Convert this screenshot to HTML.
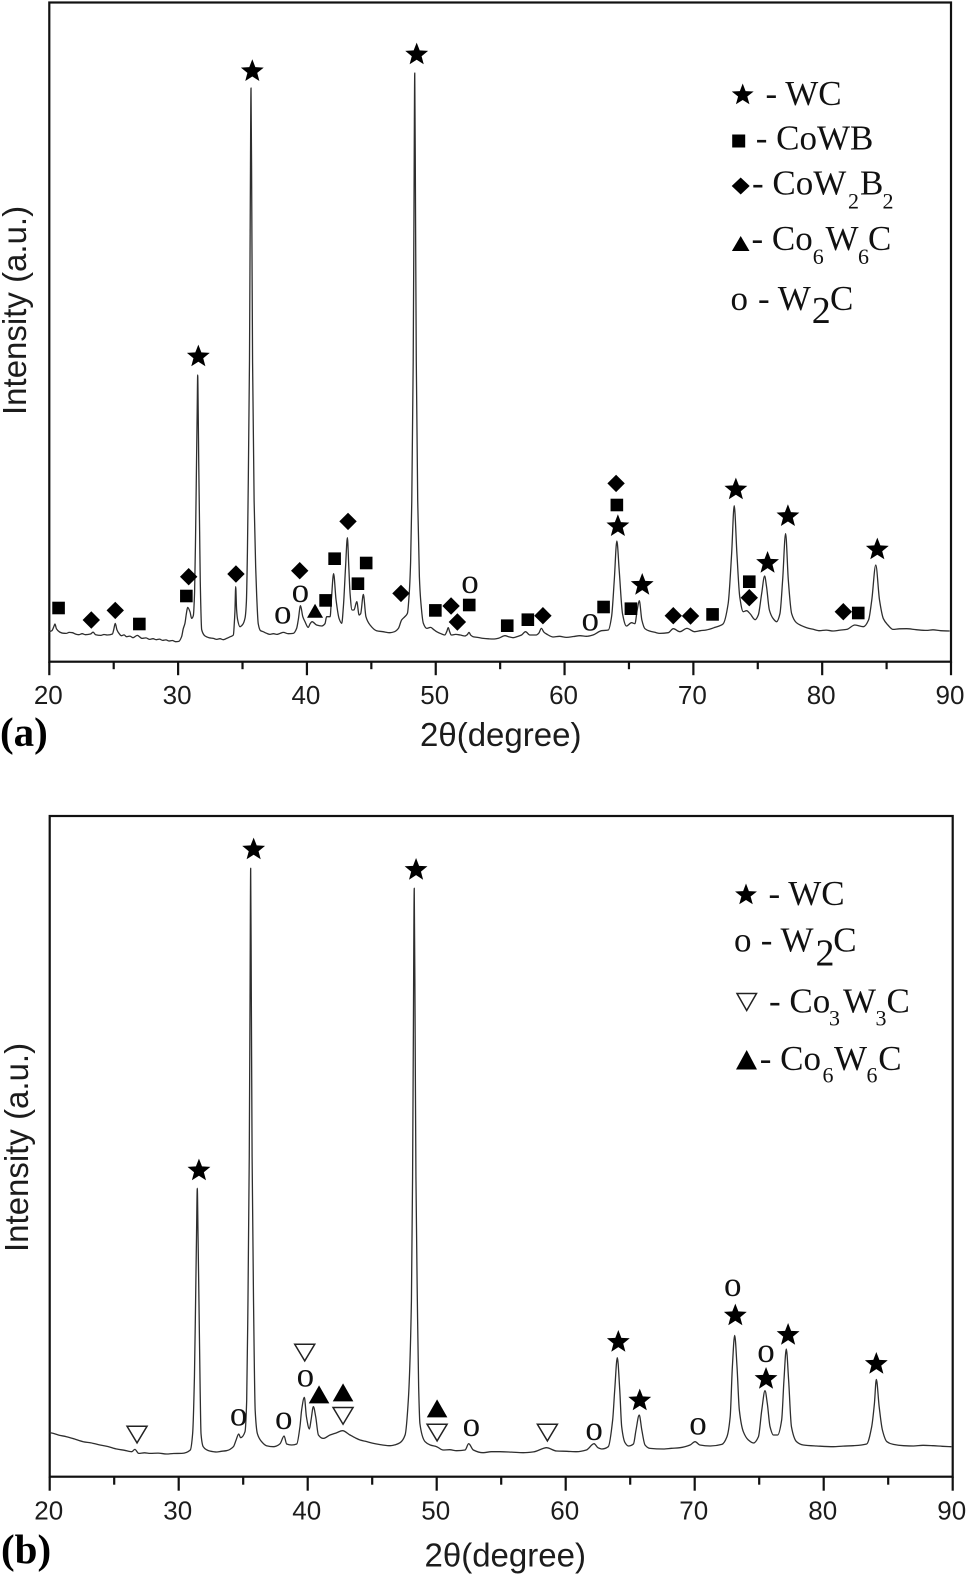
<!DOCTYPE html>
<html lang="en">
<head>
<meta charset="utf-8">
<title>XRD patterns (a) and (b)</title>
<style>
html,body{margin:0;padding:0;background:#fff;}
svg{display:block;filter:blur(0.35px);}
.tick-label{font:26px "Liberation Sans",sans-serif;fill:#1c1c1c;text-anchor:middle;}
.axis-title{font:33px "Liberation Sans","DejaVu Sans",sans-serif;fill:#1c1c1c;}
.panel-tag{font:bold 41px "Liberation Serif",serif;fill:#000;}
.legend-text{font:35px "Liberation Serif",serif;fill:#111;}
.o-mark{font:35px "Liberation Serif",serif;fill:#111;text-anchor:middle;}
</style>
</head>
<body>
<svg id="figure" xmlns="http://www.w3.org/2000/svg" width="968" height="1578" viewBox="0 0 968 1578">
  <rect width="968" height="1578" fill="#fff"/>

  <g id="panelA">
    <rect x="49.3" y="2.5" width="901.7" height="659.2" fill="none" stroke="#111" stroke-width="2.2"/>
    <text class="axis-title" transform="translate(26,415) rotate(-90)">Intensity (a.u.)</text>
    <text class="axis-title" x="420" y="746">2θ(degree)</text>
    <text class="panel-tag" x="0" y="746">(a)</text>
  </g>

  <g id="panelB">
    <rect x="49.7" y="816" width="903" height="660.7" fill="none" stroke="#111" stroke-width="2.2"/>
    <text class="axis-title" transform="translate(28,1252) rotate(-90)">Intensity (a.u.)</text>
    <text class="axis-title" x="424.5" y="1566.5">2θ(degree)</text>
    <text class="panel-tag" x="1" y="1563">(b)</text>
  </g>

  <g>
    <g>
      <polygon transform="translate(742.7,95) scale(1.15)" points="0,-10 2.5,-3.4 9.51,-3.09 4,1.3 5.88,8.09 0,4.3 -5.88,8.09 -4,1.3 -9.51,-3.09 -2.5,-3.4" fill="#000"/>
      <text class="legend-text" x="765.5" y="105">- WC</text>
    </g>
    <g>
      <rect x="732.2" y="134.5" width="13" height="13" fill="#000"/>
      <text class="legend-text" x="755.7" y="149.3">- CoWB</text>
    </g>
    <g>
      <polygon points="740.7,177.5 749.7,186 740.7,194.5 731.7,186" fill="#000"/>
      <text class="legend-text" x="752" y="194.3">- CoW<tspan x="848" dy="14" font-size="22">2</tspan><tspan x="860" dy="-14">B</tspan><tspan x="882.5" dy="14" font-size="22">2</tspan></text>
    </g>
    <g>
      <polygon points="740.7,236 749.5,251 731.9,251" fill="#000"/>
      <text class="legend-text" x="751.5" y="250">- Co<tspan x="812.8" dy="14" font-size="22">6</tspan><tspan x="825.5" dy="-14">W</tspan><tspan x="858" dy="14" font-size="22">6</tspan><tspan x="868" dy="-14">C</tspan></text>
    </g>
    <g>
      <text class="o-mark" x="739.3" y="310">o</text>
      <text class="legend-text" x="758" y="310">- W<tspan x="811.7" dy="13" font-size="38">2</tspan><tspan x="830" dy="-13">C</tspan></text>
    </g>
  </g>

  <g>
    <g>
      <polygon transform="translate(746,895) scale(1.15)" points="0,-10 2.5,-3.4 9.51,-3.09 4,1.3 5.88,8.09 0,4.3 -5.88,8.09 -4,1.3 -9.51,-3.09 -2.5,-3.4" fill="#000"/>
      <text class="legend-text" x="768.5" y="905">- WC</text>
    </g>
    <g>
      <text class="o-mark" x="742.7" y="951.7">o</text>
      <text class="legend-text" x="760.7" y="951.7">- W<tspan x="815.5" dy="14" font-size="38">2</tspan><tspan x="833.3" dy="-14">C</tspan></text>
    </g>
    <g>
      <polygon points="737,993.5 756.5,993.5 746.7,1010.5" fill="#fff" stroke="#222" stroke-width="1.5"/>
      <text class="legend-text" x="769" y="1012.7">- Co<tspan x="829" dy="13" font-size="22">3</tspan><tspan x="843" dy="-13">W</tspan><tspan x="875.5" dy="13" font-size="22">3</tspan><tspan x="886.5" dy="-13">C</tspan></text>
    </g>
    <g>
      <polygon points="746.7,1050 757,1069.5 736,1069.5" fill="#000"/>
      <text class="legend-text" x="759.7" y="1070">- Co<tspan x="822.5" dy="12.7" font-size="22">6</tspan><tspan x="834" dy="-12.7">W</tspan><tspan x="866.5" dy="12.7" font-size="22">6</tspan><tspan x="878.3" dy="-12.7">C</tspan></text>
    </g>
  </g>
</svg>

<script>
const xMajorTicks = [20, 30, 40, 50, 60, 70, 80, 90];
const xMinorTicks = [25, 35, 45, 55, 65, 75, 85];

const twoThetaA = [
20.0,20.2,20.35,20.44,20.55,20.8,21.05,21.3,21.55,21.8,
22.05,22.3,22.55,22.8,23.2,23.4,23.6,24,24.25,24.5,
24.9,25.0,25.12,25.25,25.4,25.6,25.8,26,26.25,26.5,
26.83,27.2,27.5,27.8,28.05,28.3,28.55,28.8,29.05,29.3,
29.55,29.8,30.05,30.27,30.4,30.53,30.64,30.74,30.92,31.05,
31.18,31.28,31.36,31.43,31.48,31.52,31.56,31.6,31.67,31.72,
31.83,32.09,32.4,32.73,33.0,33.25,33.5,33.77,34.05,34.29,
34.36,34.41,34.47,34.54,34.62,34.8,35.0,35.2,35.3,35.38,
35.43,35.54,35.6,35.66,35.72,35.78,35.9,36.02,36.1,36.22,
36.4,36.6,36.85,37.13,37.4,37.65,37.9,38.17,38.55,38.94,
39.2,39.33,39.5,39.68,39.85,40.1,40.25,40.4,40.75,41.15,
41.4,41.53,41.8,41.9,42.07,42.26,42.5,42.7,42.83,43.0,
43.14,43.25,43.35,43.5,43.65,43.87,44.05,44.17,44.38,44.58,
44.9,45.4,45.9,46.45,46.8,47.1,47.35,47.6,47.8,47.95,
48.05,48.14,48.25,48.31,48.37,48.43,48.49,48.6,48.73,48.83,
49.04,49.3,49.6,49.85,50.07,50.4,50.7,50.85,50.97,51.08,
51.2,51.55,51.9,52.27,52.45,52.58,52.72,52.9,53.3,53.7,
54.1,54.46,54.9,55.37,55.7,56.0,56.35,56.66,56.97,57.3,
57.8,58.0,58.2,58.4,58.6,59.12,59.6,60.15,60.7,61.2,
61.7,62.2,62.87,63.4,63.65,63.86,64.06,64.24,64.5,64.8,
65.2,65.46,65.64,65.8,66.0,66.24,66.6,67.0,67.4,68.05,
68.44,68.95,69.5,70.1,70.55,71.0,71.67,72.3,72.7,72.97,
73.17,73.38,73.6,73.87,74.13,74.4,74.8,75.04,75.3,75.53,
75.68,75.9,76.2,76.46,76.72,76.93,77.16,77.37,77.63,78.0,
78.4,78.8,79.3,79.8,80.3,80.85,81.4,81.9,82.54,83.2,
83.6,83.85,84.16,84.45,84.75,85.1,85.5,86.0,86.55,87.3,
88.1,88.6,89.2,89.9
];
const intensityA = [
30,31,35,37.7,33,29.7,28.5,28.3,29.3,29,
27.6,27,28,27,27.7,29.5,27,26.3,27.2,26.7,
27.7,32,38.3,32,28.5,26,26.8,25,25.6,24,
26.3,23.3,23.8,22.3,23,22,22.6,21.3,21.8,20.7,
21.2,20,20.3,25,33,38.3,48,54.3,50,43.3,
46,70,130,200,250,286.7,250,200,130,80,
32,25.7,24,23.3,22.3,23,22,23.3,25,26.7,
38,50,75,52,42,35,37,44,60,110,
161,300,450,573.7,450,300,161,95,66,38,
31,30,28.5,27.3,28,27.3,28.2,29.3,28,28.3,
33.3,42,56,45,40,34.3,38,40,36.7,35.7,
38,45,45,62,88,62,43,38.3,55,95,
124,95,68,51.7,51.7,60,46.7,48,67.3,45,
36.7,31,30,29,30,33.3,41.7,45,48.3,70,
100,161,300,450,588.7,450,300,161,85,61.7,
38.3,33.3,34.3,32,30,28,26.7,30,34,30,
26.7,27.3,26.7,25.7,27,29.3,26.5,25,24.2,23.3,
22.9,22.7,23.6,26,24.8,24,25.2,26.7,30,26.7,
26.7,28.5,33.3,29.5,27.7,24.7,25.4,24.3,25.2,26,
25.4,26.7,31,31.7,45,81.7,120.7,91.7,48,35.7,
39,38,51.7,61,41.7,33,30.7,29.4,28.3,29,
33,30,33.3,30,31,31.7,34.3,37.7,58,108,
156,108,65,50,51,48,42,46.7,68,85.7,
75,51.7,43,40,48,81.7,128,81.7,48,39,
36,34,32.4,31,31.6,30.7,31.6,32.3,36.7,35,
41.7,61.7,96.7,61.7,43,36.7,32.3,32.9,33,32,
31.3,31.9,31,30.7
];

const twoThetaB = [
20,20.28,20.7,21.3,21.9,22.6,23.2,23.9,24.5,25.2,
25.8,26.36,26.6,26.9,27.35,27.8,28.4,29.07,29.6,30.23,
30.9,31.08,31.22,31.31,31.38,31.44,31.5,31.57,31.66,31.73,
31.9,32.15,32.4,32.95,33.3,33.7,34.24,34.45,34.65,34.8,
35.14,35.27,35.37,35.47,35.53,35.58,35.63,35.69,35.8,35.93,
36.1,36.43,36.8,37.34,37.6,37.86,38.17,38.37,38.76,39.15,
39.4,39.53,39.74,39.9,40.13,40.26,40.44,40.62,40.83,41.2,
41.73,42.25,42.7,43.28,43.7,44.06,44.55,45.1,45.75,46.4,
46.8,47.16,47.55,47.8,48.04,48.13,48.19,48.26,48.33,48.39,
48.5,48.6,48.7,49.1,49.5,50,50.5,51.0,51.55,52.2,
52.48,52.84,53.6,54.25,54.9,55.8,56.7,57.5,58.27,58.5,
59.3,60.1,60.85,61.6,62.2,62.5,62.8,63.3,63.64,63.8,
64.0,64.19,64.34,64.6,64.86,65.25,65.45,65.7,65.9,66.15,
66.54,67.57,68.2,68.86,69.64,70.03,70.4,71.2,72.1,72.5,
72.75,72.92,73.1,73.28,73.46,73.77,74.16,74.55,74.94,75.2,
75.45,75.63,75.84,76.1,76.43,76.74,76.92,77.1,77.28,77.5,
77.9,78.42,79.46,80.75,81.5,82.3,83.33,83.72,83.93,84.08,
84.3,84.55,84.9,85.4,86.2,86.95,87.7,88.5,89.2,89.9
];
const intensityB = [
44,43.3,41.6,40,37.8,35,33.8,31.7,30.2,27.7,
26.4,25,27.3,23.3,23.9,23.3,23.6,22.7,23.2,23.3,
26.7,43,100,176,240,288.4,240,176,90,43,
30,27,25.7,24.7,25.4,26,30,36.7,42.7,39,
45,76,176,320,480,608.4,480,320,176,66,
43,35,31,30,30.8,33,40.7,32.7,31.7,32.7,
50,66.7,79.3,60,47.7,56.7,70,60,41.7,38.3,
41.7,44,46,41.7,38.8,36.7,35.2,33.3,31.8,31,
32,34,41.7,76.7,176,300,440,588.4,440,300,
176,90,53,35,31.7,30,26.7,27,26,26.7,
33,26.7,24,25,25,24.6,24,24.8,28.3,29,
25.7,25.4,25,26.7,33,29,27.7,30,56.7,86.7,
119,86.7,50,34,30.7,32.7,46.7,61.7,46.7,31.7,
28.3,27.7,28.4,29,31.7,35,31.7,30.7,32.3,40,
60,110,141.3,110,66.7,45,36.7,33.7,40,66.7,
86,73,50,41.7,41.7,56.7,96.7,127.7,96.7,50,
35,31.7,30.7,30,30.6,31,32.7,50,73,97.3,
70,46.7,35,32.3,31,30.7,31.4,31,30.4,30
];

const wcStarsA2Theta = [31.57,35.76,48.52,64.14,66.03,73.3,75.76,77.34,84.28];
const wcStarsAIntensity = [305.7,591,607.7,136,77.3,172.7,99.3,146,112.7];
const cowbSquaresA2Theta = [20.72,26.99,30.64,41.45,42.15,43.96,44.6,49.97,52.6,55.55,57.15,63.03,65.15,64.06,71.49,74.34,82.8];
const cowbSquaresAIntensity = [53.7,37.7,65.7,61.3,103,78,98.7,51.3,56.7,36,42,54.7,53,156.7,47.3,80,48.7];
const cow2b2DiamondsA2Theta = [23.26,25.12,30.82,34.49,39.44,43.19,47.3,51.19,51.68,58.32,64,68.44,69.78,74.34,81.64];
const cow2b2DiamondsAIntensity = [41.7,51.3,85,87.7,91,140.3,68.3,55.7,39.7,46,178.3,46,45.7,64,50];
const co6w6cTrianglesA2Theta = [40.63];
const co6w6cTrianglesAIntensity = [51];
const w2cCirclesA2Theta = [38.12,39.49,52.66,61.99];
const w2cCirclesAIntensity = [46,67.7,76.7,39];

const wcStarsB2Theta = [31.57,35.81,48.4,64.08,65.74,73.15,75.53,77.24,84.08];
const wcStarsBIntensity = [306.7,627.7,607.3,135.3,76.7,161.7,98.3,142.3,113.3];
const w2cCirclesB2Theta = [34.65,38.14,39.82,52.69,62.2,70.26,72.95,75.53];
const w2cCirclesBIntensity = [59,55.7,98,48.3,44.7,50,188.3,122.3];
const co3w3cOpenB2Theta = [26.77,39.77,42.74,50.03,58.58];
const co3w3cOpenBIntensity = [42.3,124.3,61,44.3,44.3];
const co6w6cFilledB2Theta = [40.88,42.74,50.03];
const co6w6cFilledBIntensity = [82.3,84.3,68.3];

const SVG_NS = 'http://www.w3.org/2000/svg';

function xAxis(left, right) {
  return function (deg) { return left + (deg - 20) / 70 * (right - left); };
}
function yAxis(bottom) {
  return function (value) { return bottom - value; };
}

function drawTicks(group, panelId, x, bottom, labelY, majorLen, minorLen) {
  xMajorTicks.forEach(function (v) {
    const t = document.createElementNS(SVG_NS, 'line');
    
    
    t.setAttribute('x1', x(v));
    t.setAttribute('x2', x(v));
    t.setAttribute('y1', bottom);
    t.setAttribute('y2', bottom + majorLen);
    t.setAttribute('stroke', '#111');
    t.setAttribute('stroke-width', '2.2');
    group.appendChild(t);
    const lab = document.createElementNS(SVG_NS, 'text');
    
    
    lab.setAttribute('class', 'tick-label');
    lab.setAttribute('x', x(v) - 1);
    lab.setAttribute('y', labelY);
    lab.textContent = String(v);
    group.appendChild(lab);
  });
  xMinorTicks.forEach(function (v) {
    const t = document.createElementNS(SVG_NS, 'line');
    
    
    t.setAttribute('x1', x(v));
    t.setAttribute('x2', x(v));
    t.setAttribute('y1', bottom);
    t.setAttribute('y2', bottom + minorLen);
    t.setAttribute('stroke', '#111');
    t.setAttribute('stroke-width', '2.2');
    group.appendChild(t);
  });
}

function monotonePath(px, py) {
  const n = px.length;
  const secant = [];
  for (let i = 0; i < n - 1; i++) {
    secant.push((py[i + 1] - py[i]) / (px[i + 1] - px[i]));
  }
  const slope = [secant[0]];
  for (let i = 1; i < n - 1; i++) {
    const a = secant[i - 1], b = secant[i];
    if (a * b <= 0) {
      slope.push(0);
    } else {
      const ha = px[i] - px[i - 1], hb = px[i + 1] - px[i];
      slope.push(3 * (ha + hb) / ((2 * hb + ha) / a + (hb + 2 * ha) / b));
    }
  }
  slope.push(secant[n - 2]);
  let d = 'M' + px[0].toFixed(2) + ' ' + py[0].toFixed(2);
  for (let i = 0; i < n - 1; i++) {
    const h = (px[i + 1] - px[i]) / 3;
    d += 'C' + (px[i] + h).toFixed(2) + ' ' + (py[i] + slope[i] * h).toFixed(2) + ' ' +
         (px[i + 1] - h).toFixed(2) + ' ' + (py[i + 1] - slope[i + 1] * h).toFixed(2) + ' ' +
         px[i + 1].toFixed(2) + ' ' + py[i + 1].toFixed(2);
  }
  return d;
}

function drawTrace(group, panelId, xs, ys, x, y) {
  const p = document.createElementNS(SVG_NS, 'path');
  
  
  p.setAttribute('d', monotonePath(xs.map(x), ys.map(y)));
  p.setAttribute('fill', 'none');
  p.setAttribute('stroke', '#2e2e2e');
  p.setAttribute('stroke-width', '1.3');
  p.setAttribute('stroke-linejoin', 'round');
  group.appendChild(p);
}

function starPoints(cx, cy, r) {
  const pts = [];
  for (let i = 0; i < 10; i++) {
    const rad = i % 2 ? r * 0.43 : r;
    const a = -Math.PI / 2 + i * Math.PI / 5;
    pts.push((cx + rad * Math.cos(a)).toFixed(2) + ',' + (cy + rad * Math.sin(a)).toFixed(2));
  }
  return pts.join(' ');
}

function drawStars(group, panelId, xs, ys, x, y) {
  xs.forEach(function (d, i) {
    const s = document.createElementNS(SVG_NS, 'polygon');
    
    
    s.setAttribute('points', starPoints(x(d), y(ys[i]) + 0.6, 12));
    s.setAttribute('fill', '#000');
    group.appendChild(s);
  });
}

function drawSquares(group, panelId, xs, ys, x, y) {
  xs.forEach(function (d, i) {
    const s = document.createElementNS(SVG_NS, 'rect');
    
    
    s.setAttribute('x', x(d) - 6.3);
    s.setAttribute('y', y(ys[i]) - 6.3);
    s.setAttribute('width', 12.6);
    s.setAttribute('height', 12.6);
    s.setAttribute('fill', '#000');
    group.appendChild(s);
  });
}

function drawDiamonds(group, panelId, xs, ys, x, y) {
  xs.forEach(function (d, i) {
    const cx = x(d), cy = y(ys[i]);
    const s = document.createElementNS(SVG_NS, 'polygon');
    
    
    s.setAttribute('points', [cx, cy - 8.7, cx + 8.7, cy, cx, cy + 8.7, cx - 8.7, cy].join(' '));
    s.setAttribute('fill', '#000');
    group.appendChild(s);
  });
}

function drawTriangles(group, panelId, xs, ys, x, y, halfW, halfH) {
  xs.forEach(function (d, i) {
    const cx = x(d), cy = y(ys[i]);
    const s = document.createElementNS(SVG_NS, 'polygon');
    
    
    s.setAttribute('points', [cx, cy - halfH, cx + halfW, cy + halfH, cx - halfW, cy + halfH].join(' '));
    s.setAttribute('fill', '#000');
    group.appendChild(s);
  });
}

function drawOpenTriangles(group, panelId, xs, ys, x, y) {
  xs.forEach(function (d, i) {
    const cx = x(d), cy = y(ys[i]);
    const s = document.createElementNS(SVG_NS, 'polygon');
    
    
    s.setAttribute('points', [cx - 10, cy - 8.2, cx + 10, cy - 8.2, cx, cy + 8.5].join(' '));
    s.setAttribute('fill', '#fff');
    s.setAttribute('stroke', '#222');
    s.setAttribute('stroke-width', '1.5');
    group.appendChild(s);
  });
}

function drawCircles(group, panelId, xs, ys, x, y) {
  xs.forEach(function (d, i) {
    const s = document.createElementNS(SVG_NS, 'text');
    
    
    s.setAttribute('class', 'o-mark');
    s.setAttribute('x', x(d));
    s.setAttribute('y', y(ys[i]) + 7.8);
    s.textContent = 'o';
    group.appendChild(s);
  });
}

const groupA = document.getElementById('panelA');
const xA = xAxis(49.3, 951);
const yA = yAxis(661.7);
drawTicks(groupA, 'a', xA, 661.7, 704, 13.5, 7.5);
drawTrace(groupA, 'a', twoThetaA, intensityA, xA, yA);
drawStars(groupA, 'a', wcStarsA2Theta, wcStarsAIntensity, xA, yA);
drawSquares(groupA, 'a', cowbSquaresA2Theta, cowbSquaresAIntensity, xA, yA);
drawDiamonds(groupA, 'a', cow2b2DiamondsA2Theta, cow2b2DiamondsAIntensity, xA, yA);
drawTriangles(groupA, 'a', co6w6cTrianglesA2Theta, co6w6cTrianglesAIntensity, xA, yA, 8, 7);
drawCircles(groupA, 'a', w2cCirclesA2Theta, w2cCirclesAIntensity, xA, yA);

const groupB = document.getElementById('panelB');
const xB = xAxis(49.7, 952.7);
const yB = yAxis(1476.7);
drawTicks(groupB, 'b', xB, 1476.7, 1519.3, 14, 8);
drawTrace(groupB, 'b', twoThetaB, intensityB, xB, yB);
drawStars(groupB, 'b', wcStarsB2Theta, wcStarsBIntensity, xB, yB);
drawCircles(groupB, 'b', w2cCirclesB2Theta, w2cCirclesBIntensity, xB, yB);
drawOpenTriangles(groupB, 'b', co3w3cOpenB2Theta, co3w3cOpenBIntensity, xB, yB);
drawTriangles(groupB, 'b', co6w6cFilledB2Theta, co6w6cFilledBIntensity, xB, yB, 10.3, 9);
</script>
</body>
</html>
